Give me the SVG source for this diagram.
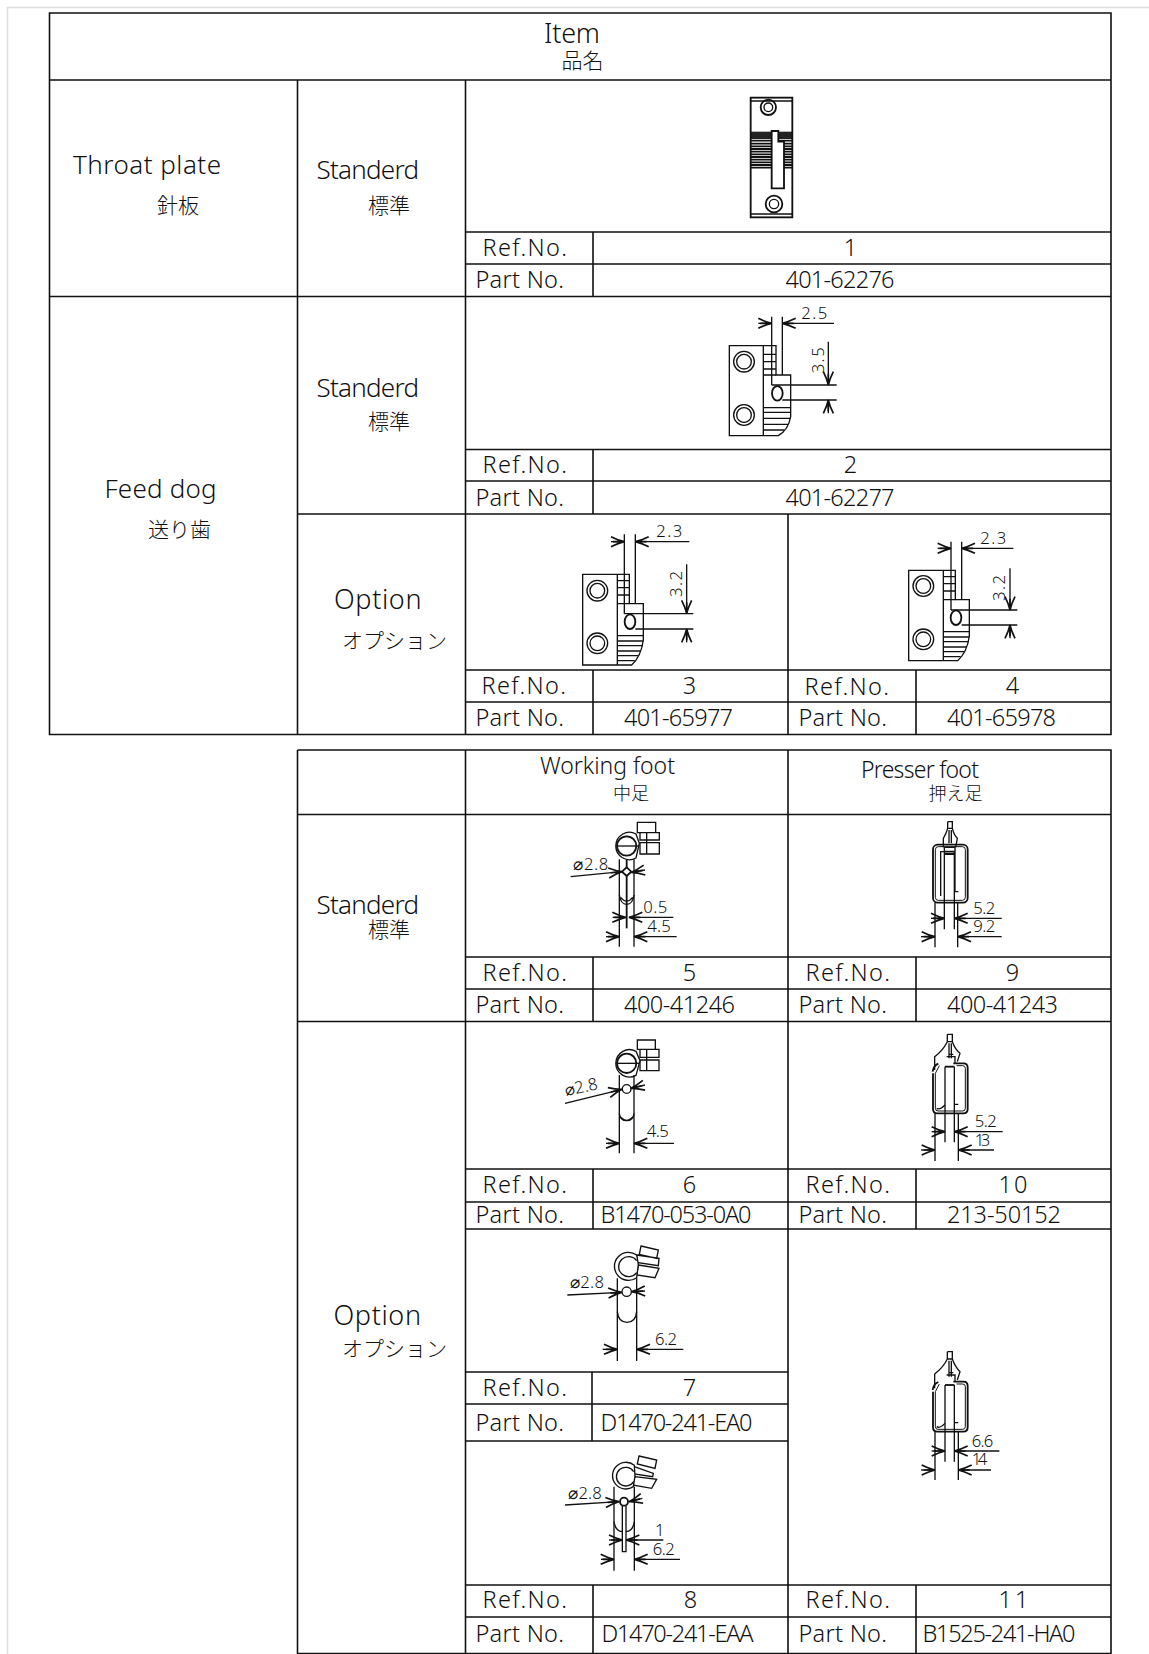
<svg xmlns="http://www.w3.org/2000/svg" width="1149" height="1654" viewBox="0 0 1149 1654">
<style>
text{font-family:"Noto Sans","Noto Sans CJK JP",sans-serif;fill:#111;font-weight:300}
.cj{font-family:"Noto Sans CJK JP","Noto Sans",sans-serif}
.g{stroke:#111;fill:none;stroke-width:1.6}
.d{fill:none;stroke:#111;stroke-width:4;stroke-linecap:butt;stroke-linejoin:miter}
.t{stroke-width:3}
.k{stroke-width:5.5}
.w{fill:#fff}
.a{marker-end:url(#ar)}
.n{font-size:50px}
.l{font-size:23.5px}
</style>
<defs>
<marker id="ar" markerUnits="userSpaceOnUse" markerWidth="50" markerHeight="40" refX="42" refY="16" orient="auto" overflow="visible"><path d="M2,1 Q24,12 42,16 Q24,20 2,31 M8,16H42" fill="none" stroke="#111" stroke-width="5"/></marker>
</defs>
<path d="M7.500,1654V7.500H1149" fill="none" stroke="#ddd" stroke-width="1.500"/>
<g id="grid" class="g">
<path d="M49.500,13H1111V734.500H49.500ZM49.500,80H1111M49.500,296.500H1111M297.500,80V734.500M465.500,80V734.500M297.500,514H1111"/>
<path d="M465.500,232H1111M465.500,264H1111M593,232V296.500"/>
<path d="M465.500,449.500H1111M465.500,481H1111M593,449.500V514"/>
<path d="M788,514V734.500M465.500,670H1111M465.500,702H1111M593,670V734.500M916,670V734.500"/>
<path d="M297.500,750H1111V1654M297.500,750V1654M465.500,750V1654M788,750V1654M297.500,814.500H1111M297.500,1021.500H1111"/>
<path d="M465.500,957H1111M465.500,989H1111M593,957V1021.500M916,957V1021.500"/>
<path d="M465.500,1169H1111M465.500,1202H1111M465.500,1229H1111M593,1169V1229M916,1169V1229"/>
<path d="M465.500,1372H788M465.500,1404H788M465.500,1441H788M592,1372V1441"/>
<path d="M465.500,1585H1111M465.500,1617H1111M593,1585V1654M916,1585V1654M297.500,1653.500H1111"/>
</g>
<g id="labels">
<text x="544" y="43" font-size="27" textLength="56">Item</text>
<text class="cj" x="561.500" y="67.500" font-size="21">品名</text>
<text x="73" y="174" font-size="26" textLength="148">Throat plate</text>
<text class="cj" x="157" y="213" font-size="21">針板</text>
<text x="316.500" y="179" font-size="26" textLength="102.500">Standerd</text>
<text class="cj" x="368" y="213" font-size="21">標準</text>
<text x="316.500" y="396.500" font-size="26" textLength="102.500">Standerd</text>
<text class="cj" x="368" y="429" font-size="21">標準</text>
<text x="104.500" y="497.500" font-size="26" textLength="112">Feed dog</text>
<text class="cj" x="148" y="537" font-size="21">送り歯</text>
<text x="334" y="609" font-size="27" textLength="87.500">Option</text>
<text class="cj" x="342" y="648" font-size="21">オプション</text>
<text x="316.500" y="914" font-size="26" textLength="102.500">Standerd</text>
<text class="cj" x="368" y="937" font-size="21">標準</text>
<text x="333.500" y="1325" font-size="27" textLength="87.500">Option</text>
<text class="cj" x="342" y="1356" font-size="21">オプション</text>
<text x="540" y="774" font-size="23" textLength="135">Working foot</text>
<text class="cj" x="613" y="800" font-size="18">中足</text>
<text x="861" y="777.500" font-size="23" textLength="118">Presser foot</text>
<text class="cj" x="928.500" y="800" font-size="18">押え足</text>
<g class="l" transform="translate(-0.500 -1)">
<text x="483" y="256.500" textLength="84.500">Ref.No.</text><text x="476" y="289" textLength="88.500">Part No.</text>
<text x="851" y="256.500" text-anchor="middle" font-weight="500">1</text><text x="786" y="289" textLength="109">401-62276</text>
<text x="851" y="473.700" text-anchor="middle">2</text><text x="483" y="473.700" textLength="84.500">Ref.No.</text><text x="476" y="506.500" textLength="88.500">Part No.</text>
<text x="786" y="506.500" textLength="109">401-62277</text>
<text x="482" y="695" textLength="84.500">Ref.No.</text><text x="476" y="727" textLength="88.500">Part No.</text>
<text x="690" y="695" text-anchor="middle">3</text><text x="624.500" y="727" textLength="109">401-65977</text>
<text x="805" y="696" textLength="84.500">Ref.No.</text><text x="799" y="727" textLength="88.500">Part No.</text>
<text x="1013" y="695" text-anchor="middle">4</text><text x="947.500" y="727" textLength="109">401-65978</text>
<text x="483" y="982" textLength="84.500">Ref.No.</text><text x="476" y="1014" textLength="88.500">Part No.</text>
<text x="690" y="982" text-anchor="middle">5</text><text x="624.500" y="1014" textLength="111">400-41246</text>
<text x="806" y="982" textLength="84.500">Ref.No.</text><text x="799" y="1014" textLength="88.500">Part No.</text>
<text x="1013" y="982" text-anchor="middle">9</text><text x="947.500" y="1014" textLength="111">400-41243</text>
<text x="483" y="1194" textLength="84.500">Ref.No.</text><text x="476" y="1224" textLength="88.500">Part No.</text>
<text x="690" y="1194" text-anchor="middle">6</text><text x="601" y="1224" textLength="151">B1470-053-0A0</text>
<text x="806" y="1194" textLength="84.500">Ref.No.</text><text x="799" y="1224" textLength="88.500">Part No.</text>
<text x="999" y="1194" textLength="29">10</text><text x="947.500" y="1224" textLength="114">213-50152</text>
<text x="483" y="1397" textLength="84.500">Ref.No.</text><text x="476" y="1432" textLength="88.500">Part No.</text>
<text x="690" y="1397" text-anchor="middle">7</text><text x="601" y="1432" textLength="152">D1470-241-EA0</text>
<text x="483" y="1609" textLength="84.500">Ref.No.</text><text x="476" y="1643" textLength="88.500">Part No.</text>
<text x="691" y="1609" text-anchor="middle">8</text><text x="602" y="1643" textLength="152">D1470-241-EAA</text>
<text x="806" y="1609" textLength="84.500">Ref.No.</text><text x="799" y="1643" textLength="88.500">Part No.</text>
<text x="999" y="1609" textLength="30" font-weight="500">11</text><text x="923" y="1643" textLength="153">B1525-241-HA0</text>
</g>
</g>
<g id="part-1" transform="translate(690 80) scale(.33333)">
<rect x="182" y="155" width="125" height="22" fill="#222"/>
<path d="M182,182H307M182,191H307M182,199H307M182,207H307M182,215H307M182,223H307M182,231H307M182,239H307M182,247H307M182,255H307M182,263H307" class="d" stroke-width="5" style="stroke-width:5.500"/>
<rect class="d k" x="182" y="53" width="125" height="359"/>
<path class="d" d="M182,63H307M182,402H307"/>
<path class="d k w" d="M245,153H265V185H282V325H245Z"/>
<circle class="d k" cx="235" cy="82" r="23"/><circle class="d" cx="235" cy="82" r="13"/>
<circle class="d k" cx="252" cy="372" r="25"/><circle class="d" cx="252" cy="372" r="14"/>
</g>
<g id="part-2" transform="translate(700 295) scale(.33333)">
<path class="d" d="M88,152H228V240H272V365Q265,405 235,422H88ZM190,152V422"/>
<path class="d" d="M190,178H228M190,200H228M190,222H228M190,240H228M190,338H272M190,352H272M190,370H270M190,388H264M190,405H252"/>
<path class="d" d="M215,65V270M247,65V240M215,270H410M247,315H410"/>
<ellipse class="d k" cx="232" cy="295" rx="16" ry="22"/>
<circle class="d" cx="132" cy="200" r="31"/><circle class="d" cx="132" cy="200" r="22"/>
<circle class="d" cx="132" cy="360" r="31"/><circle class="d" cx="132" cy="360" r="22"/>
<path class="d a" d="M175,85H215"/><path class="d a" d="M402,85H247"/>
<path class="d a" d="M385,140V270"/><path class="d a" d="M385,355V315"/>
<text class="n" x="304" y="71" textLength="78">2.5</text>
<text class="n" transform="translate(373 235) rotate(-90)" textLength="78">3.5</text>
</g>
<g id="part-3" transform="translate(570 515) scale(.33333)">
<path class="d" d="M38,178H178V266H220V375Q213,425 185,450H38ZM142,178V450"/>
<path class="d" d="M142,197H178M142,218H178M142,240H178M142,266H178M142,362H220M142,378H220M142,392H219M142,408H212M142,422H204M142,437H194"/>
<path class="d" d="M163,58V296M196,58V266M163,296H370M196,342H370"/>
<ellipse class="d k" cx="180" cy="320" rx="16" ry="22"/>
<circle class="d" cx="82" cy="227" r="31"/><circle class="d" cx="82" cy="227" r="22"/>
<circle class="d" cx="82" cy="385" r="31"/><circle class="d" cx="82" cy="385" r="22"/>
<path class="d a" d="M123,80H163"/><path class="d a" d="M358,80H196"/>
<path class="d a" d="M350,148V296"/><path class="d a" d="M350,382V342"/>
<text class="n" x="259" y="65" textLength="78">2.3</text>
<text class="n" transform="translate(335 246) rotate(-90)" textLength="78">3.2</text>
</g>
<g id="part-4" transform="translate(900 515) scale(.33333)">
<path class="d" d="M26,166H166V254H208V363Q201,413 173,437H26ZM130,166V437"/>
<path class="d" d="M130,185H166M130,206H166M130,228H166M130,254H166M130,350H208M130,366H208M130,380H207M130,396H200M130,410H192M130,425H182"/>
<path class="d" d="M153,80V285M185,80V254M153,285H352M185,330H352"/>
<ellipse class="d k" cx="168" cy="308" rx="16" ry="22"/>
<circle class="d" cx="70" cy="213" r="31"/><circle class="d" cx="70" cy="213" r="22"/>
<circle class="d" cx="70" cy="373" r="31"/><circle class="d" cx="70" cy="373" r="22"/>
<path class="d a" d="M113,100H153"/><path class="d a" d="M340,100H185"/>
<path class="d a" d="M330,160V285"/><path class="d a" d="M330,370V330"/>
<text class="n" x="241" y="88" textLength="78">2.3</text>
<text class="n" transform="translate(316 258) rotate(-90)" textLength="78">3.2</text>
</g>
<g id="part-5" transform="translate(560 810) scale(.33333)">
<path class="d" d="M232,37H287V68H232ZM240,68H298V90H240ZM240,98H298V132H240ZM260,68V132"/>
<path class="d w" d="M228,72A41,41 0 1 0 228,144L238,100Z"/>
<circle class="d k" cx="200" cy="108" r="29"/><path class="d" d="M172,108H238"/>
<path class="d" d="M178,148V410M222,148V410"/>
<path class="d" d="M178,255Q182,283 200,283Q218,283 222,255M182,262Q200,285 218,262"/>
<path class="d k" d="M200,150V355"/>
<path class="d k w" d="M200,172L214,185L200,198L186,185Z"/>
<path class="d a" d="M32,200L186,185"/><path class="d a" d="M255,180L214,187"/>
<path class="d a" d="M158,322H197"/><path class="d a" d="M340,322H207"/>
<path class="d a" d="M138,380H178"/><path class="d a" d="M350,380H222"/>
<text class="n" x="40" y="180" textLength="105">⌀2.8</text>
<text class="n" x="250" y="308" textLength="72">0.5</text>
<text class="n" x="262" y="365" textLength="70">4.5</text>
</g>
<g id="part-9" transform="translate(910 810) scale(.33333)">
<path class="d" d="M113,35H127V55Q132,75 142,85L137,112M113,35V55Q108,72 100,85V112"/>
<path class="d" d="M113,55H127M117,60V100M124,60V100"/>
<rect class="d k" x="69" y="104" width="104" height="174" rx="14"/>
<rect class="d t" x="76" y="110" width="90" height="161" rx="9"/>
<path class="d w" d="M92,258V125H103V112H135V245H145"/>
<path class="d k" d="M105,125H135M105,132H135"/>
<path class="d" d="M103,125V358M133,125V358M75,278V412M143,278V412"/>
<path class="d a" d="M63,325H103"/><path class="d a" d="M275,325H133"/>
<path class="d a" d="M33,380H75"/><path class="d a" d="M275,380H143"/>
<text class="n" x="190" y="312" textLength="66">5.2</text>
<text class="n" x="190" y="367" textLength="66">9.2</text>
</g>
<g id="part-6" transform="translate(550 1030) scale(.33333)">
<path class="d" d="M262,30H316V58H262ZM270,58H327V82H270ZM270,90H327V122H270ZM290,58V122"/>
<path class="d w" d="M258,64A41,41 0 1 0 258,136L270,92Z"/>
<circle class="d k" cx="230" cy="100" r="29"/><path class="d" d="M203,100H268"/>
<path class="d" d="M208,135V370M252,135V370"/>
<circle class="d" cx="230" cy="177" r="13"/>
<path class="d" d="M208,250Q210,272 230,272Q250,272 252,250M212,262Q230,280 248,262"/>
<path class="d a" d="M45,220L216,178"/><path class="d a" d="M285,165L243,175"/>
<path class="d a" d="M168,340H208"/><path class="d a" d="M372,340H252"/>
<text class="n" transform="translate(48 198) rotate(-12)" textLength="100">⌀2.8</text>
<text class="n" x="290" y="322" textLength="66">4.5</text>
</g>
<g id="part-10" transform="translate(910 1025) scale(.33333)">
<path class="d" d="M112,28H127V50Q135,72 150,85L142,110M112,28V50Q100,75 74,95V135"/>
<path class="d" d="M112,50H127M117,55V100M124,55V100M110,95H135V115M118,88H130"/>
<path class="d k" d="M68,140Q70,122 85,116M130,115H160Q173,115 173,128V252Q173,265 160,265H82Q69,265 69,252V145"/>
<path class="d t" d="M140,122H158Q166,122 166,130V250Q166,258 158,258H84Q76,258 76,250V145L88,122"/>
<path class="d" d="M80,250Q90,256 105,240M133,238H145"/>
<path class="d k" d="M105,125H133"/>
<path class="d" d="M105,125V352M133,125V352M75,265V408M145,265V408"/>
<path class="d a" d="M65,320H105"/><path class="d a" d="M278,320H133"/>
<path class="d a" d="M33,375H75"/><path class="d a" d="M252,375H145"/>
<text class="n" x="194" y="305" textLength="66">5.2</text>
<text class="n" x="194" y="362" textLength="47">13</text>
</g>
<g id="part-7" transform="translate(555 1235) scale(.33333)">
<path class="d" d="M258,33L310,45L305,70L253,58ZM245,60L312,70L310,92L245,82ZM250,90L312,100L300,128L245,120Z"/>
<path class="d w" d="M245,60A42,42 0 1 0 245,128L250,88Z"/>
<path class="d" d="M245,77A30,30 0 1 0 245,113"/>
<path class="d" d="M187,130V378M245,130V378"/>
<circle class="d" cx="215" cy="170" r="14"/>
<path class="d" d="M187,230Q190,262 216,262Q242,262 245,230"/>
<path class="d a" d="M37,180L200,172"/><path class="d a" d="M270,168L230,170"/>
<path class="d a" d="M143,343H187"/><path class="d a" d="M385,343H245"/>
<text class="n" x="45" y="160" textLength="102">⌀2.8</text>
<text class="n" x="300" y="330" textLength="66">6.2</text>
</g>
<g id="part-8" transform="translate(555 1450) scale(.33333)">
<path class="d" d="M252,18L305,30L300,55L247,42ZM238,50L295,70L293,80L238,72ZM240,80L305,88L290,115L232,105Z"/>
<path class="d w" d="M238,46A40,40 0 1 0 235,110L240,78Z"/>
<path class="d" d="M236,65A28,28 0 1 0 236,95"/>
<path class="d" d="M177,110V362M238,110V362"/>
<circle class="d k" cx="207" cy="155" r="12"/>
<path class="d" d="M202,168V305H213V168"/>
<path class="d" d="M177,215Q182,245 202,245M213,245Q233,245 238,215"/>
<path class="d a" d="M30,165L192,155"/><path class="d a" d="M262,145L222,155"/>
<path class="d a" d="M162,270H202"/><path class="d a" d="M325,270H213"/>
<path class="d a" d="M138,328H177"/><path class="d a" d="M375,328H238"/>
<text class="n" x="40" y="147" textLength="100">⌀2.8</text>
<text class="n" x="300" y="258" textLength="20">1</text>
<text class="n" x="293" y="315" textLength="66">6.2</text>
</g>
<g id="part-11" transform="translate(910 1340) scale(.33333)">
<path class="d" d="M112,35H127V57Q135,80 150,95L142,120M112,35V57Q100,82 74,102V145"/>
<path class="d" d="M112,57H127M117,62V110M124,62V110M110,105H135V125M118,98H130"/>
<path class="d k" d="M68,150Q70,132 85,126M130,125H160Q173,125 173,138V262Q173,275 160,275H82Q69,275 69,262V155"/>
<path class="d t" d="M140,132H158Q166,132 166,140V260Q166,268 158,268H84Q76,268 76,260V155L88,132"/>
<path class="d" d="M80,260Q90,266 105,250M133,248H145"/>
<path class="d k" d="M105,135H133"/>
<path class="d" d="M105,135V365M133,135V365M75,275V420M145,275V420"/>
<path class="d a" d="M65,333H105"/><path class="d a" d="M268,333H133"/>
<path class="d a" d="M33,390H75"/><path class="d a" d="M243,390H145"/>
<text class="n" x="185" y="320" textLength="65">6.6</text>
<text class="n" x="185" y="375" textLength="47">14</text>
</g>
</svg>
